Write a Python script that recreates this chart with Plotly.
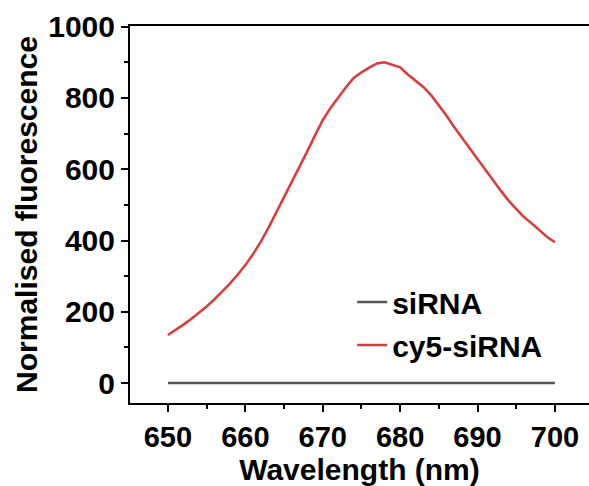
import plotly.graph_objects as go

wavelength = list(range(650, 701))
cy5_sirna = [135, 149, 164, 180, 197, 215, 235, 256, 279, 304,
             331, 362, 397, 436, 478, 520, 563, 606, 650, 695,
             738, 772, 802, 830, 856, 872, 885, 897, 900, 894,
             886, 866, 848, 831, 808, 780, 750, 718, 688, 660,
             630, 598, 568, 540, 512, 490, 466, 448, 428, 410, 395]
sirna = [0, 0, 0, 0, 0, 0, 0, 0, 0, 0,
         0, 0, 0, 0, 0, 0, 0, 0, 0, 0,
         0, 0, 0, 0, 0, 0, 0, 0, 0, 0,
         0, 0, 0, 0, 0, 0, 0, 0, 0, 0,
         0, 0, 0, 0, 0, 0, 0, 0, 0, 0, 0]

x_ticks = [650, 660, 670, 680, 690, 700]
y_ticks = [0, 200, 400, 600, 800, 1000]

FONT = "Liberation Sans"

fig = go.Figure()
fig.add_trace(go.Scatter(x=wavelength, y=sirna, mode="lines", name="siRNA",
                         line=dict(color="#555555", width=2.5), legendgroup="a"))
fig.add_trace(go.Scatter(x=wavelength, y=cy5_sirna, mode="lines", name="cy5-siRNA",
                         line=dict(color="#e0393b", width=2.5), legendgroup="b"))

fig.update_layout(
    width=589, height=486,
    margin=dict(l=130, r=0, t=26, b=83),
    plot_bgcolor="white", paper_bgcolor="white",
    font=dict(family=FONT, color="black"),
    showlegend=True,
    legend=dict(x=0.484, y=0.211, xanchor="left", yanchor="middle",
                bgcolor="rgba(0,0,0,0)", tracegroupgap=1,
                font=dict(family=FONT, size=30, weight="bold", color="black")),
    xaxis=dict(
        range=[645.1, 704.4], tickvals=x_ticks, ticktext=[str(v) for v in x_ticks],
        showline=True, linecolor="black", linewidth=2, mirror=True,
        ticks="outside", ticklen=7, tickwidth=2, tickcolor="black",
        minor=dict(dtick=5, tick0=650, ticks="outside", ticklen=4, tickwidth=2, tickcolor="black"),
        showgrid=False, zeroline=False,
        tickfont=dict(family=FONT, size=29, weight="bold"),
        title=dict(text="Wavelength (nm)", font=dict(family=FONT, size=30, weight="bold"), standoff=4),
    ),
    yaxis=dict(
        range=[-56, 1002], tickvals=y_ticks, ticktext=[str(v) for v in y_ticks],
        showline=True, linecolor="black", linewidth=2, mirror=False,
        ticks="outside", ticklen=7, tickwidth=2, tickcolor="black",
        minor=dict(dtick=100, tick0=0, ticks="outside", ticklen=4, tickwidth=2, tickcolor="black"),
        showgrid=False, zeroline=False,
        tickfont=dict(family=FONT, size=30, weight="bold"),
        title=dict(text="Normalised fluorescence", font=dict(family=FONT, size=30, weight="bold"), standoff=2),
    ),
)

fig.write_html("out.html")
